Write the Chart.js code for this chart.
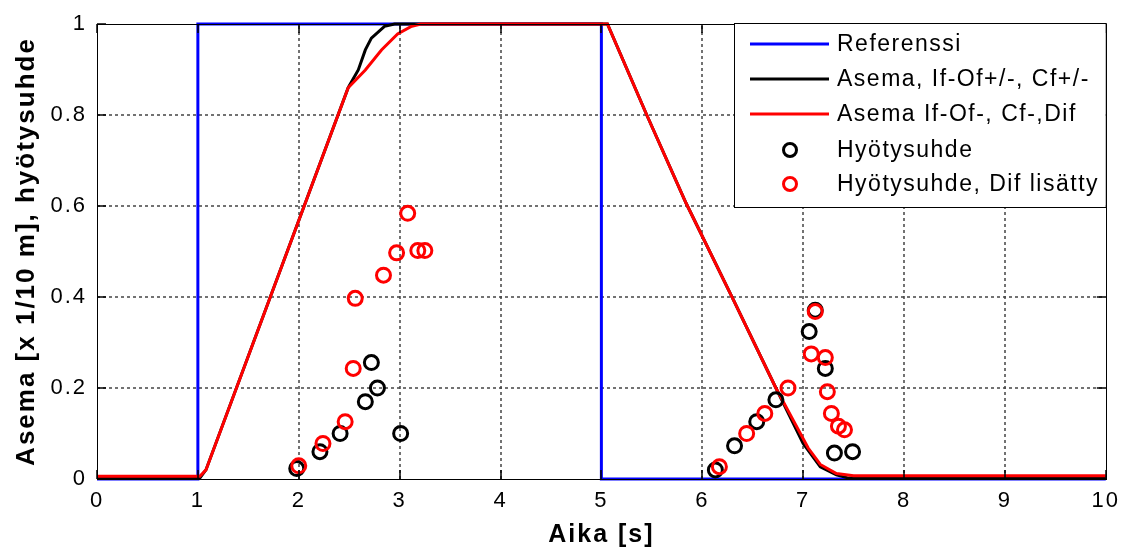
<!DOCTYPE html>
<html>
<head>
<meta charset="utf-8">
<script src="https://cdn.jsdelivr.net/npm/chart.js@4/dist/chart.umd.min.js"></script>
<style>
  html, body { margin: 0; padding: 0; background: #fff; }
  #wrap { width: 1127px; height: 548px; }
</style>
</head>
<body>
<div id="wrap"><canvas id="chart" width="1127" height="548"></canvas></div>
<script>
// reference signal (step up at 1 s, down at 5 s)
const refX = [0, 1, 1, 5, 5, 10];
const refY = [0, 0, 1, 1, 0, 0];

// position, If-Of+/-, Cf+/-
const posX = [0, 1.02, 1.08, 2.49, 2.59, 2.66, 2.72, 2.85, 2.95, 5.06, 5.45, 5.84, 6.31, 6.73, 7.0, 7.17, 7.33, 7.45, 10];
const posY = [0.002, 0.002, 0.02, 0.86, 0.899, 0.943, 0.969, 0.995, 1, 1, 0.80, 0.606, 0.393, 0.20, 0.078, 0.027, 0.009, 0.002, 0.002];

// position, If-Of-, Cf-, Dif
const posDifX = [0, 1.02, 1.08, 2.49, 2.66, 2.82, 2.98, 3.12, 3.21, 5.06, 5.45, 5.84, 6.31, 6.73, 6.9, 7.05, 7.17, 7.33, 7.5, 10];
const posDifY = [0.006, 0.006, 0.02, 0.86, 0.899, 0.943, 0.978, 0.995, 1, 1, 0.80, 0.606, 0.393, 0.20, 0.13, 0.068, 0.032, 0.012, 0.007, 0.007];

// efficiency samples
const effX = [1.98, 2.21, 2.41, 2.66, 2.72, 2.78, 3.01, 6.13, 6.32, 6.54, 6.73, 7.06, 7.12, 7.22, 7.31, 7.49];
const effY = [0.023, 0.06, 0.10, 0.17, 0.256, 0.20, 0.10, 0.02, 0.073, 0.126, 0.174, 0.324, 0.371, 0.243, 0.057, 0.06];

// efficiency samples with Dif added
const effDifX = [2.00, 2.24, 2.46, 2.54, 2.56, 2.84, 2.97, 3.08, 3.18, 3.25, 6.17, 6.44, 6.62, 6.85, 7.08, 7.12, 7.22, 7.24, 7.28, 7.35, 7.41];
const effDifY = [0.029, 0.078, 0.126, 0.243, 0.397, 0.448, 0.497, 0.584, 0.502, 0.502, 0.027, 0.10, 0.144, 0.20, 0.275, 0.368, 0.267, 0.192, 0.144, 0.116, 0.108];

const xTicks = [0, 1, 2, 3, 4, 5, 6, 7, 8, 9, 10];
const yTicks = [0, 0.2, 0.4, 0.6, 0.8, 1];

const labels = ['Referenssi', 'Asema, If-Of+/-, Cf+/-', 'Asema If-Of-, Cf-,Dif', 'Hyötysuhde', 'Hyötysuhde, Dif lisätty'];

const FONT = '"Liberation Sans", Arial, sans-serif';

function pts(xs, ys) {
    return xs.map((x, i) => ({ x: x, y: ys[i] }));
}

// pixel of a value along a scale, from the chart area and the scale range
function xPix(chart, v) {
    const a = chart.chartArea, s = chart.scales.x;
    return a.left + (v - s.min) / (s.max - s.min) * (a.right - a.left);
}
function yPix(chart, v) {
    const a = chart.chartArea, s = chart.scales.y;
    return a.bottom - (v - s.min) / (s.max - s.min) * (a.bottom - a.top);
}

// dotted grid, box, inward ticks and legend in matlab style
const frame = {
    id: 'frame',
    beforeDraw(chart) {
        chart.ctx.letterSpacing = '2px';
    },
    beforeDatasetsDraw(chart) {
        const c = chart.ctx;
        const a = chart.chartArea;
        c.save();
        c.strokeStyle = '#444444';
        c.lineWidth = 1.5;
        c.setLineDash([3, 3]);
        for (let i = 1; i < xTicks.length - 1; i++) {
            const px = Math.round(xPix(chart, xTicks[i]));
            c.beginPath();
            c.moveTo(px, a.bottom);
            c.lineTo(px, a.top);
            c.stroke();
        }
        for (let i = 1; i < yTicks.length - 1; i++) {
            const py = Math.round(yPix(chart, yTicks[i]));
            c.beginPath();
            c.moveTo(a.left, py);
            c.lineTo(a.right, py);
            c.stroke();
        }
        c.restore();
    },
    afterDraw(chart) {
        const c = chart.ctx;
        const a = chart.chartArea;
        c.save();
        c.setLineDash([]);
        c.strokeStyle = '#000000';
        c.lineWidth = 1.5;
        for (let i = 0; i < xTicks.length; i++) {
            const px = Math.round(xPix(chart, xTicks[i]));
            c.beginPath();
            c.moveTo(px, a.bottom); c.lineTo(px, a.bottom - 9);
            c.moveTo(px, a.top); c.lineTo(px, a.top + 9);
            c.stroke();
        }
        for (let i = 0; i < yTicks.length; i++) {
            const py = Math.round(yPix(chart, yTicks[i]));
            c.beginPath();
            c.moveTo(a.left, py); c.lineTo(a.left + 9, py);
            c.moveTo(a.right, py); c.lineTo(a.right - 9, py);
            c.stroke();
        }
        c.lineWidth = 1;
        c.strokeRect(Math.round(a.left) + 0.5, Math.round(a.top) + 0.5, Math.round(a.right - a.left), Math.round(a.bottom - a.top));

        // legend
        const lx = 734, ly = 23, lw = a.right - lx, lh = 184;
        c.fillStyle = '#fff';
        c.fillRect(lx, ly, lw, lh);
        c.strokeRect(lx + 0.5, ly + 0.5, lw, lh);
        const rows = [44, 79, 114, 150, 184];
        const colors = ['#0000ff', '#000000', '#ff0000', '#000000', '#ff0000'];
        c.lineWidth = 3;
        rows.forEach((ry, i) => {
            c.strokeStyle = colors[i];
            c.beginPath();
            if (i < 3) {
                c.moveTo(750, ry); c.lineTo(829, ry);
            } else {
                c.arc(790, ry, 6.5, 0, Math.PI * 2);
            }
            c.stroke();
            c.fillStyle = '#000';
            c.font = '23px ' + FONT;
            c.letterSpacing = '1.5px';
            c.textBaseline = 'middle';
            c.textAlign = 'left';
            c.fillText(labels[i], 837, ry + 1);
        });
        c.restore();
    }
};

const ctx = document.getElementById('chart').getContext('2d');
const chart = new Chart(ctx, {
    type: 'scatter',
    data: {
        datasets: [{
            type: 'line',
            label: labels[0],
            data: pts(refX, refY),
            borderColor: '#0000ff',
            borderWidth: 3,
            pointRadius: 0,
            clip: 6,
            order: 4
        }, {
            type: 'line',
            label: labels[1],
            data: pts(posX, posY),
            borderColor: '#000000',
            borderWidth: 3,
            pointRadius: 0,
            clip: 6,
            order: 3
        }, {
            type: 'line',
            label: labels[2],
            data: pts(posDifX, posDifY),
            borderColor: '#ff0000',
            borderWidth: 3,
            pointRadius: 0,
            clip: 6,
            order: 2
        }, {
            label: labels[3],
            data: pts(effX, effY),
            borderColor: '#000000',
            backgroundColor: 'rgba(0,0,0,0)',
            borderWidth: 3,
            pointRadius: 7,
            clip: 10,
            order: 1
        }, {
            label: labels[4],
            data: pts(effDifX, effDifY),
            borderColor: '#ff0000',
            backgroundColor: 'rgba(0,0,0,0)',
            borderWidth: 3,
            pointRadius: 7,
            clip: 10,
            order: 0
        }]
    },
    options: {
        responsive: false,
        animation: false,
        layout: { padding: { top: 24, right: 16, left: 0, bottom: 0 } },
        plugins: {
            legend: { display: false },
            tooltip: { enabled: false }
        },
        scales: {
            x: {
                type: 'linear',
                min: 0,
                max: 10,
                afterFit: s => { s.height = 69; },
                afterBuildTicks: s => { s.ticks = xTicks.map(v => ({ value: v })); },
                grid: { display: false, drawTicks: false },
                border: { display: false },
                ticks: {
                    padding: 9,
                    color: '#000',
                    font: { family: FONT, size: 22 },
                    maxRotation: 0
                },
                title: {
                    display: true,
                    text: 'Aika [s]',
                    color: '#000',
                    font: { family: FONT, size: 25, weight: 'bold', lineHeight: 1 },
                    padding: { top: 0, bottom: 0 }
                }
            },
            y: {
                min: 0,
                max: 1,
                afterFit: s => { s.width = 97; },
                afterBuildTicks: s => { s.ticks = yTicks.map(v => ({ value: v })); },
                grid: { display: false, drawTicks: false },
                border: { display: false },
                ticks: {
                    padding: 10,
                    color: '#000',
                    font: { family: FONT, size: 22 },
                    callback: v => String(v)
                },
                title: {
                    display: true,
                    text: 'Asema [x 1/10 m], hyötysuhde',
                    color: '#000',
                    font: { family: FONT, size: 26, weight: 'bold', lineHeight: 1 },
                    padding: { top: 14, bottom: 0 }
                }
            }
        }
    },
    plugins: [frame]
});
</script>
</body>
</html>
